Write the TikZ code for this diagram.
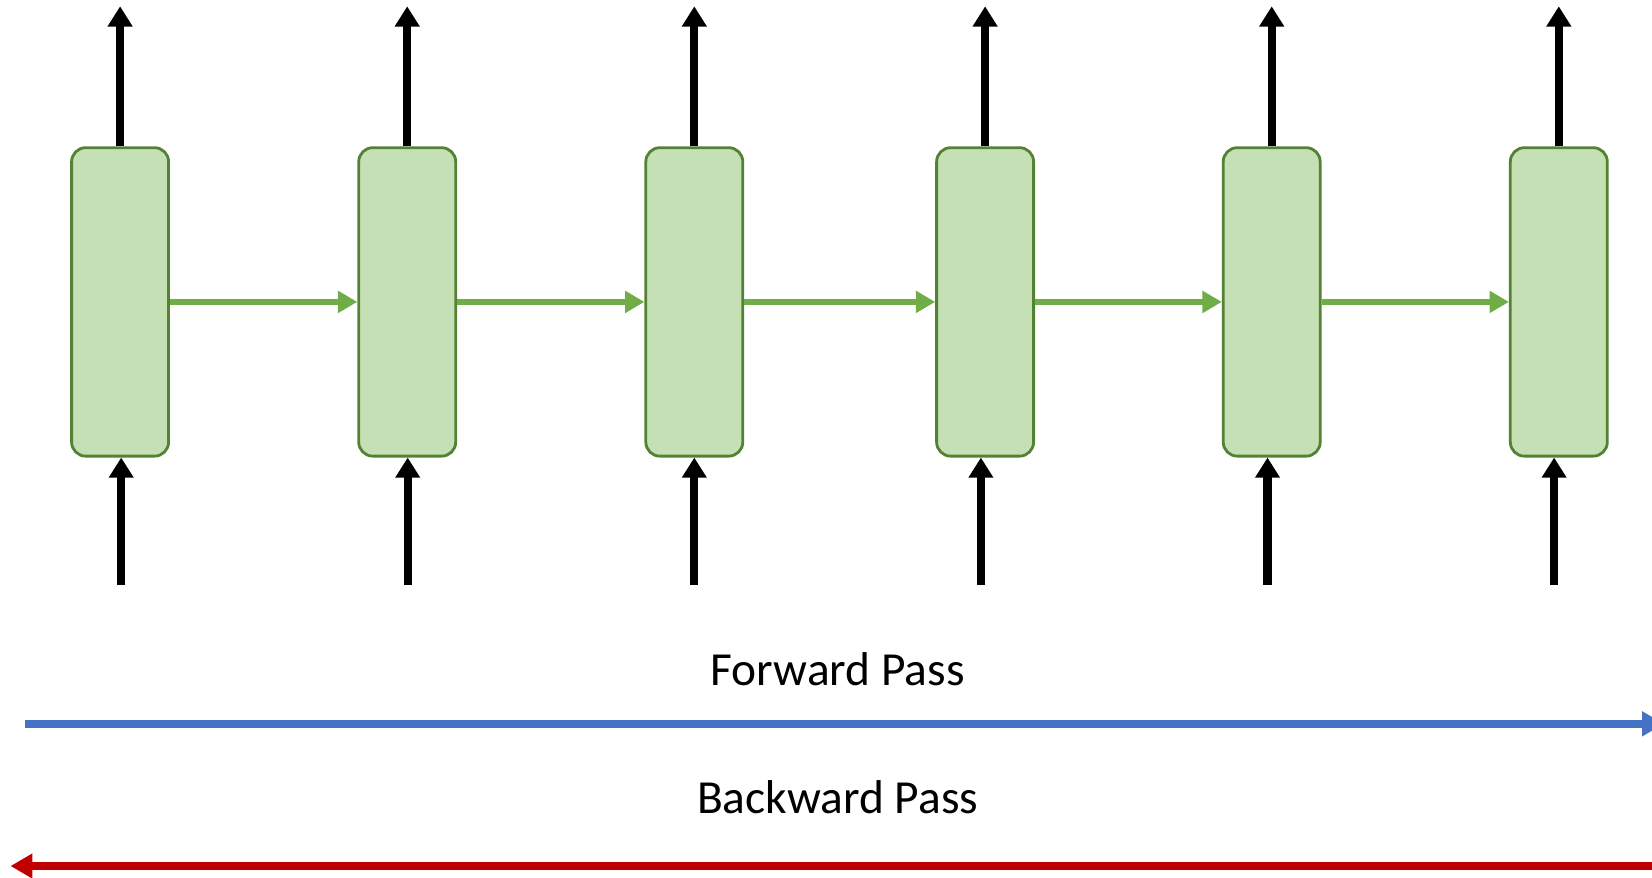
\documentclass[tikz,border=0pt]{standalone}
\usepackage{fontspec}
\setmainfont{Carlito}
\usepackage{tikz}
\usetikzlibrary{arrows.meta,positioning}
\definecolor{cellfill}{HTML}{C5E0B4}
\definecolor{celledge}{HTML}{548235}
\definecolor{flowgreen}{HTML}{70AD47}
\definecolor{passblue}{HTML}{4472C4}
\definecolor{passred}{HTML}{C00000}

\begin{document}
\begin{tikzpicture}[x=0.02cm,y=-0.02cm,
  cell/.style={draw=celledge,fill=cellfill,line width=1.6pt,rounded corners=8pt,
    minimum width=1.94cm,minimum height=6.17cm,inner sep=0pt},
  io/.style={line width=4.6pt,-{Triangle[length=11.5pt,width=13.5pt]}},
  hop/.style={flowgreen,line width=3pt,-{Triangle[length=11pt,width=12pt]}},
  pass/.style={line width=4.6pt,-{Triangle[length=12.5pt,width=13.5pt]}},
  font=\fontsize{27}{32}\selectfont]
\useasboundingbox (0,0) rectangle (1652,877);
% unrolled cells with their input and output
\foreach \i/\cx/\inx in {1/120.1/121.2,2/407.2/407.7,3/694.3/694.3,
                         4/985.1/980.9,5/1271.7/1267.5,6/1558.8/1554.1} {
  \node[cell] (cell\i) at (\cx,301.9) {};
  \coordinate (out\i) at (\cx,6.3);
  \coordinate (in\i) at (\inx,584.7);
  \draw[io] (cell\i.north) -- (out\i);
  \draw[io] (in\i) -- (in\i |- cell\i.south);
}
% hidden state passed along
\foreach \a/\b in {1/2,2/3,3/4,4/5,5/6}
  \draw[hop] (cell\a.east) -- (cell\b.west);
% direction of the two passes
\node (fwd) at (837.6,669) {Forward Pass};
\node (bwd) at (837.6,797.6) {Backward Pass};
\coordinate (fwdstart) at (25.3,723.8);
\coordinate (fwdend) at (1664,723.8);
\coordinate (bwdstart) at (1652,866);
\coordinate (bwdend) at (10.5,866);
\draw[pass,passblue] (fwdstart) -- (fwdend);
\draw[pass,passred] (bwdstart) -- (bwdend);
\end{tikzpicture}
\end{document}
